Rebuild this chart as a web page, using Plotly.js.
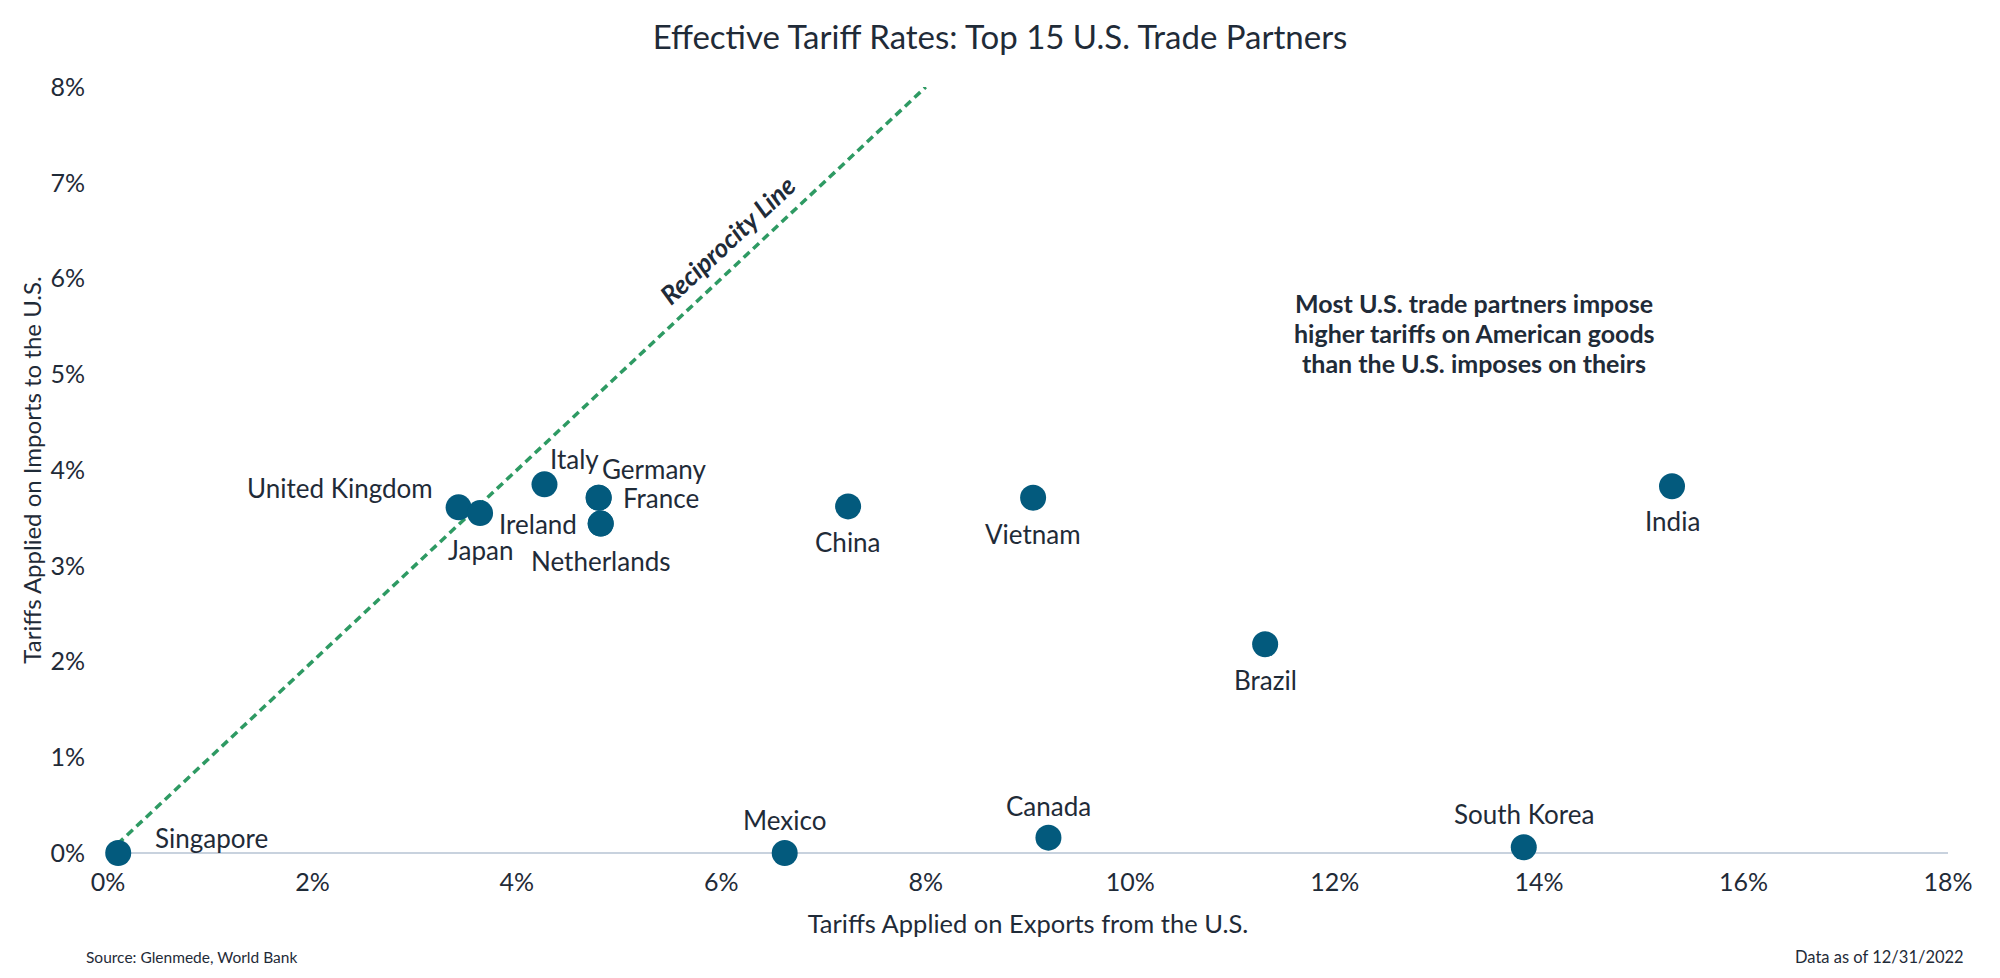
<!DOCTYPE html>
<html>
<head>
<meta charset="utf-8">
<script src="https://cdn.plot.ly/plotly-3.0.1.min.js"></script>
<style>
  html, body { margin: 0; padding: 0; background: #fff; }
  #plotArea { width: 2000px; height: 978px; }
</style>
</head>
<body>
<div id="plotArea"></div>
<script>
// Effective tariff rates, in percent
var partners = ["Singapore", "Mexico", "Canada", "South Korea", "India", "Brazil", "Vietnam", "China",
                "Italy", "Germany", "France", "Ireland", "Netherlands", "United Kingdom", "Japan"];
var exportTariffs = [0.1, 6.62, 9.2, 13.85, 15.3, 11.32, 9.05, 7.24, 4.27, 4.8, 4.8, 4.82, 4.82, 3.43, 3.64];
var importTariffs = [0.0, 0.0, 0.16, 0.06, 3.83, 2.18, 3.71, 3.62, 3.85, 3.71, 3.71, 3.44, 3.44, 3.61, 3.55];
var reciprocity = [0, 8];
var noteLines = ["Most U.S. trade partners impose", "higher tariffs on American goods", "than the U.S. imposes on theirs"];

// label placement: [xanchor, xshift, yshift]
var labelPos = {
  "Singapore": ["left", 35, 15],
  "Mexico": ["center", 0, 33],
  "Canada": ["center", 0, 32],
  "South Korea": ["center", 0, 33],
  "India": ["center", 0, -35],
  "Brazil": ["center", 0, -36],
  "Vietnam": ["center", 0, -36],
  "China": ["center", 0, -36],
  "Italy": ["left", 4, 25],
  "Germany": ["left", 1, 29],
  "France": ["left", 22, 0],
  "Ireland": ["right", -22, 0],
  "Netherlands": ["center", 0, -37],
  "United Kingdom": ["right", -24, 19],
  "Japan": ["center", 0, -37]
};

var textColor = "#1f2b38";
var font = "Lato, 'Noto Sans', sans-serif";

var line = {
  x: reciprocity,
  y: reciprocity,
  mode: "lines",
  line: {color: "#2e9a63", width: 3.5, dash: "8px,5px"},
  hoverinfo: "skip"
};

var dots = {
  x: exportTariffs,
  y: importTariffs,
  text: partners,
  mode: "markers",
  type: "scatter",
  cliponaxis: false,
  marker: {color: "#035a7d", size: 26},
  hoverinfo: "text"
};

var notes = partners.map(function (name, i) {
  var p = labelPos[name];
  return {
    x: exportTariffs[i], y: importTariffs[i],
    text: name, showarrow: false,
    xanchor: p[0], yanchor: "middle",
    xshift: p[1], yshift: p[2],
    font: {size: 26, color: textColor}
  };
});

notes.push({
  x: 6.06, y: 6.4, text: "<b><i>Reciprocity Line</i></b>",
  showarrow: false, textangle: -43,
  font: {size: 26, color: textColor}
});

// bold note, one annotation per line for tighter spacing
noteLines.forEach(function (t, i) {
  notes.push({
    x: (1474 - 108) / (1948 - 108), y: (853 - 333) / (853 - 87),
    xref: "paper", yref: "paper", xanchor: "center", yanchor: "middle", showarrow: false,
    yshift: 30 - i * 30,
    text: "<b>" + t + "</b>",
    font: {size: 25, color: textColor}
  });
});

notes.push({
  x: 0, y: 0, xref: "paper", yref: "paper", xanchor: "left", yanchor: "middle",
  xshift: -24, yshift: -104, showarrow: false,
  text: "Source: Glenmede, World Bank",
  font: {size: 15.5, color: textColor}
});
notes.push({
  x: 1, y: 0, xref: "paper", yref: "paper", xanchor: "right", yanchor: "middle",
  xshift: 18, yshift: -104, showarrow: false,
  text: "Data as of 12/31/2022",
  font: {size: 16.5, color: textColor}
});

var layout = {
  width: 2000,
  height: 978,
  margin: {l: 108, r: 52, t: 87, b: 125},
  paper_bgcolor: "#fff",
  plot_bgcolor: "#fff",
  showlegend: false,
  font: {family: font, color: textColor, size: 25},
  title: {
    text: "Effective Tariff Rates: Top 15 U.S. Trade Partners",
    font: {size: 33, color: textColor},
    x: 0.5, xanchor: "center", y: 0.962, yanchor: "middle"
  },
  xaxis: {
    range: [0, 18],
    dtick: 2,
    ticksuffix: "%",
    showgrid: false,
    zeroline: false,
    showline: false,
    ticks: "",
    ticklabelstandoff: 12,
    tickfont: {size: 25, color: textColor},
    title: {text: "Tariffs Applied on Exports from the U.S.", font: {size: 25.5, color: textColor}, standoff: 20},
    automargin: false
  },
  yaxis: {
    range: [0, 8],
    dtick: 1,
    ticksuffix: "%",
    showgrid: false,
    zeroline: true,
    zerolinecolor: "#c8d2de",
    zerolinewidth: 2,
    showline: false,
    ticks: "",
    ticklabelstandoff: 22,
    tickfont: {size: 25, color: textColor},
    title: {text: "Tariffs Applied on Imports to the U.S.", font: {size: 24, color: textColor}, standoff: 2},
    automargin: false
  },
  annotations: notes
};

Plotly.newPlot("plotArea", [line, dots], layout, {displayModeBar: false});
</script>
</body>
</html>
